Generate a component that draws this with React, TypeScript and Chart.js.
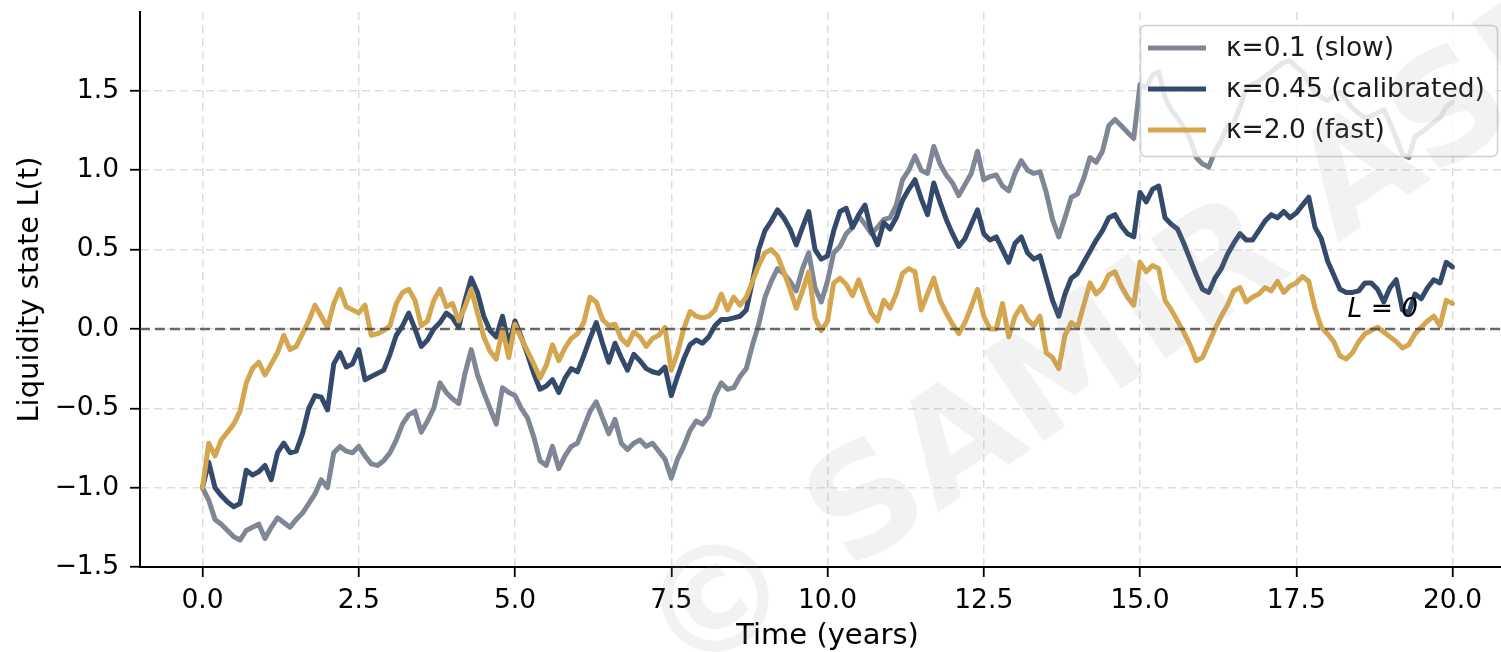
import React, { useEffect, useRef } from "react";
import { Chart, registerables } from "chart.js";

Chart.register(...registerables);

// ---- data ----
const TIME = [
  0, 0.1, 0.2, 0.3, 0.4, 0.5, 0.6, 0.7, 0.8, 0.9,
  1, 1.1, 1.2, 1.3, 1.4, 1.5, 1.6, 1.7, 1.8, 1.9,
  2, 2.1, 2.2, 2.3, 2.4, 2.5, 2.6, 2.7, 2.8, 2.9,
  3, 3.1, 3.2, 3.3, 3.4, 3.5, 3.6, 3.7, 3.8, 3.9,
  4, 4.1, 4.2, 4.3, 4.4, 4.5, 4.6, 4.7, 4.8, 4.9,
  5, 5.1, 5.2, 5.3, 5.4, 5.5, 5.6, 5.7, 5.8, 5.9,
  6, 6.1, 6.2, 6.3, 6.4, 6.5, 6.6, 6.7, 6.8, 6.9,
  7, 7.1, 7.2, 7.3, 7.4, 7.5, 7.6, 7.7, 7.8, 7.9,
  8, 8.1, 8.2, 8.3, 8.4, 8.5, 8.6, 8.7, 8.8, 8.9,
  9, 9.1, 9.2, 9.3, 9.4, 9.5, 9.6, 9.7, 9.8, 9.9,
  10, 10.1, 10.2, 10.3, 10.4, 10.5, 10.6, 10.7, 10.8, 10.9,
  11, 11.1, 11.2, 11.3, 11.4, 11.5, 11.6, 11.7, 11.8, 11.9,
  12, 12.1, 12.2, 12.3, 12.4, 12.5, 12.6, 12.7, 12.8, 12.9,
  13, 13.1, 13.2, 13.3, 13.4, 13.5, 13.6, 13.7, 13.8, 13.9,
  14, 14.1, 14.2, 14.3, 14.4, 14.5, 14.6, 14.7, 14.8, 14.9,
  15, 15.1, 15.2, 15.3, 15.4, 15.5, 15.6, 15.7, 15.8, 15.9,
  16, 16.1, 16.2, 16.3, 16.4, 16.5, 16.6, 16.7, 16.8, 16.9,
  17, 17.1, 17.2, 17.3, 17.4, 17.5, 17.6, 17.7, 17.8, 17.9,
  18, 18.1, 18.2, 18.3, 18.4, 18.5, 18.6, 18.7, 18.8, 18.9,
  19, 19.1, 19.2, 19.3, 19.4, 19.5, 19.6, 19.7, 19.8, 19.9,
  20,
];

const SLOW = [
  -1.0, -1.08, -1.2, -1.23, -1.27, -1.31, -1.33, -1.27, -1.25, -1.23,
  -1.32, -1.25, -1.19, -1.22, -1.25, -1.2, -1.16, -1.1, -1.04, -0.95,
  -1.0, -0.78, -0.74, -0.77, -0.78, -0.74, -0.8, -0.85, -0.86, -0.83,
  -0.78, -0.7, -0.6, -0.54, -0.52, -0.65, -0.58, -0.5, -0.34, -0.4,
  -0.44, -0.47, -0.28, -0.13, -0.29, -0.4, -0.5, -0.6, -0.37, -0.4,
  -0.42, -0.5, -0.56, -0.68, -0.83, -0.86, -0.74, -0.88, -0.8, -0.74,
  -0.72, -0.62, -0.52, -0.46, -0.56, -0.66, -0.57, -0.72, -0.76, -0.72,
  -0.7, -0.74, -0.72, -0.77, -0.82, -0.94, -0.82, -0.74, -0.64, -0.58,
  -0.6, -0.55, -0.42, -0.34, -0.38, -0.37, -0.3, -0.25, -0.1, 0.03,
  0.2, 0.3, 0.38, 0.35, 0.3, 0.24, 0.38, 0.48, 0.26, 0.17,
  0.3, 0.48, 0.52, 0.6, 0.64, 0.71, 0.66, 0.6, 0.64, 0.69,
  0.7, 0.78, 0.94, 1.0, 1.09, 1.0, 0.98, 1.15, 1.04, 0.97,
  0.92, 0.84, 0.91, 0.98, 1.12, 0.94, 0.96, 0.97, 0.9, 0.87,
  0.98, 1.06, 1.0, 0.98, 0.99, 0.86, 0.69, 0.58, 0.7, 0.83,
  0.85, 0.95, 1.08, 1.05, 1.12, 1.28, 1.32, 1.28, 1.24, 1.2,
  1.54, 1.52, 1.6, 1.62, 1.46, 1.38, 1.33, 1.27, 1.2, 1.08,
  1.04, 1.02, 1.12, 1.19, 1.28, 1.3, 1.4, 1.52, 1.54, 1.56,
  1.59, 1.62, 1.65, 1.68, 1.69, 1.65, 1.62, 1.55, 1.49, 1.46,
  1.44, 1.47, 1.49, 1.44, 1.39, 1.36, 1.33, 1.34, 1.36, 1.38,
  1.3, 1.2, 1.1, 1.08, 1.21, 1.24, 1.27, 1.3, 1.33, 1.4,
  1.43,
];

const CALIBRATED = [
  -1.0, -0.84, -1.0, -1.05, -1.09, -1.12, -1.1, -0.89, -0.92, -0.9,
  -0.86, -0.95, -0.78, -0.72, -0.78, -0.77, -0.66, -0.5, -0.42, -0.43,
  -0.51, -0.22, -0.15, -0.24, -0.22, -0.13, -0.32, -0.3, -0.28, -0.26,
  -0.16, -0.04, 0.02, 0.1, 0.0, -0.11, -0.07, 0.0, 0.04, 0.1,
  0.07, 0.01, 0.18, 0.32, 0.23, 0.08, -0.01, -0.05, 0.08, -0.1,
  0.05, -0.05, -0.16, -0.28, -0.38, -0.36, -0.32, -0.4, -0.31, -0.25,
  -0.27, -0.17, -0.06, 0.04, -0.09, -0.21, -0.09, -0.18, -0.26, -0.16,
  -0.2, -0.25, -0.27, -0.28, -0.24, -0.42, -0.3, -0.19, -0.1, -0.07,
  -0.09, -0.05, 0.02, 0.06, 0.06, 0.07, 0.08, 0.12, 0.3, 0.5,
  0.62, 0.68, 0.75, 0.7, 0.63, 0.53, 0.64, 0.74, 0.5, 0.44,
  0.46, 0.62, 0.74, 0.76, 0.64, 0.72, 0.78, 0.62, 0.53, 0.67,
  0.63, 0.7, 0.81, 0.88, 0.94, 0.82, 0.72, 0.92, 0.8, 0.69,
  0.6, 0.52, 0.57, 0.66, 0.75, 0.6, 0.56, 0.58, 0.5, 0.42,
  0.54, 0.58, 0.48, 0.44, 0.46, 0.32, 0.18, 0.08, 0.22, 0.32,
  0.35, 0.42, 0.49, 0.56, 0.62, 0.7, 0.72, 0.65, 0.6, 0.58,
  0.86, 0.8, 0.88, 0.9, 0.7, 0.66, 0.63, 0.54, 0.44, 0.34,
  0.25, 0.23, 0.32, 0.38, 0.47, 0.54, 0.6, 0.56, 0.56, 0.62,
  0.68, 0.72, 0.7, 0.74, 0.7, 0.73, 0.78, 0.83, 0.64, 0.57,
  0.43, 0.34, 0.25, 0.23, 0.23, 0.24, 0.29, 0.29, 0.25, 0.17,
  0.26, 0.31, 0.12, 0.1, 0.22, 0.19, 0.26, 0.31, 0.29, 0.42,
  0.39,
];

const FAST = [
  -1.0, -0.72, -0.8, -0.7, -0.65, -0.6, -0.52, -0.34, -0.25, -0.21,
  -0.29, -0.22, -0.15, -0.04, -0.13, -0.11, -0.03, 0.05, 0.15, 0.08,
  0.01, 0.16, 0.25, 0.14, 0.12, 0.1, 0.15, -0.04, -0.03, -0.01,
  0.02, 0.16, 0.23, 0.25, 0.18, 0.02, 0.05, 0.18, 0.25, 0.14,
  0.16, 0.05, 0.14, 0.25, 0.1, -0.05, -0.14, -0.19, 0.0, -0.18,
  0.03, -0.06, -0.14, -0.22, -0.31, -0.23, -0.1, -0.2, -0.12, -0.06,
  -0.03, 0.04, 0.2, 0.17, 0.06, 0.02, 0.03, -0.06, -0.1, -0.02,
  -0.05, -0.11, -0.06, -0.04, 0.01, -0.26, -0.15, 0.0, 0.11, 0.08,
  0.07, 0.08, 0.12, 0.22, 0.12, 0.2, 0.15, 0.2, 0.3, 0.4,
  0.48, 0.5, 0.46, 0.36, 0.25, 0.13, 0.24, 0.36, 0.07, -0.01,
  0.05, 0.29, 0.32, 0.28, 0.21, 0.31, 0.2, 0.1, 0.05, 0.18,
  0.13, 0.22, 0.35, 0.38, 0.36, 0.12, 0.22, 0.32, 0.18, 0.1,
  0.03, -0.03, 0.04, 0.14, 0.25, 0.08, 0.0, 0.0, 0.16, -0.05,
  0.08, 0.14, 0.06, 0.02, 0.08, -0.15, -0.18, -0.25, -0.04, 0.04,
  0.01, 0.15, 0.29, 0.22, 0.26, 0.34, 0.36, 0.27, 0.2, 0.15,
  0.42, 0.36, 0.4, 0.38, 0.18, 0.12, 0.05, -0.02, -0.1, -0.2,
  -0.18, -0.09, 0.0, 0.08, 0.15, 0.24, 0.26, 0.17, 0.2, 0.22,
  0.26, 0.24, 0.3, 0.23, 0.27, 0.29, 0.33, 0.3, 0.13, 0.01,
  -0.03, -0.08, -0.17, -0.19, -0.15, -0.08, -0.03, -0.01, 0.01, -0.02,
  -0.05, -0.08, -0.12, -0.1, -0.03, 0.01, 0.05, 0.08, 0.02, 0.18,
  0.16,
];

const SERIES_LABELS = ["κ=0.1 (slow)", "κ=0.45 (calibrated)", "κ=2.0 (fast)"];
const SERIES_COLORS = ["#7f8695", "#344a6c", "#d4a650"];
const X_TICKS = [0, 2.5, 5, 7.5, 10, 12.5, 15, 17.5, 20];
const Y_TICKS = [-1.5, -1, -0.5, 0, 0.5, 1, 1.5];
const X_MIN = -1;
const X_MAX = 21;
const Y_MIN = -1.5;
const Y_MAX = 1.997;
const REF_LEVEL = 0;
const REF_LABEL = "L = 0";
const REF_LABEL_AT = [18.32, 0.075];
const X_TITLE = "Time (years)";
const Y_TITLE = "Liquidity state L(t)";
const WATERMARK = "© SAMIR ASMAR";

const FONT = "'DejaVu Sans', sans-serif";
const fmt = (v: number) => (v < 0 ? "\u2212" : "") + Math.abs(v).toFixed(1);

const decorPlugin = {
  id: "decor",
  afterDraw(chart: any) {
    const ctx = chart.ctx as CanvasRenderingContext2D;
    const xs = chart.scales.x;
    const ys = chart.scales.y;
    ctx.save();

    // reference label
    ctx.font = `italic 26.5px ${FONT}`;
    ctx.fillStyle = "#000";
    ctx.textBaseline = "alphabetic";
    ctx.textAlign = "left";
    ctx.fillText(REF_LABEL, xs.getPixelForValue(REF_LABEL_AT[0]), ys.getPixelForValue(REF_LABEL_AT[1]));

    // legend box
    const bx = 1140.5, by = 25.5, bw = 357, bh = 131, r = 6;
    ctx.beginPath();
    ctx.moveTo(bx + r, by);
    ctx.lineTo(bx + bw - r, by);
    ctx.quadraticCurveTo(bx + bw, by, bx + bw, by + r);
    ctx.lineTo(bx + bw, by + bh - r);
    ctx.quadraticCurveTo(bx + bw, by + bh, bx + bw - r, by + bh);
    ctx.lineTo(bx + r, by + bh);
    ctx.quadraticCurveTo(bx, by + bh, bx, by + bh - r);
    ctx.lineTo(bx, by + r);
    ctx.quadraticCurveTo(bx, by, bx + r, by);
    ctx.closePath();
    ctx.fillStyle = "rgba(255,255,255,0.8)";
    ctx.fill();
    ctx.strokeStyle = "#d0d0d0";
    ctx.lineWidth = 1.5;
    ctx.stroke();

    ctx.font = `26.5px ${FONT}`;
    ctx.textBaseline = "middle";
    SERIES_LABELS.forEach((lab, i) => {
      const y = 48 + i * 41;
      ctx.beginPath();
      ctx.moveTo(1148, y);
      ctx.lineTo(1206, y);
      ctx.strokeStyle = SERIES_COLORS[i];
      ctx.lineWidth = 5;
      ctx.stroke();
      ctx.fillStyle = "#1a1a1a";
      ctx.fillText(lab, 1226, y + 1);
    });

    // watermark
    ctx.translate(662, 652);
    ctx.rotate((-34 * Math.PI) / 180);
    ctx.font = `bold 148px ${FONT}`;
    ctx.fillStyle = "rgba(150,150,150,0.12)";
    ctx.textBaseline = "middle";
    ctx.textAlign = "left";
    ctx.fillText(WATERMARK, 0, 0);

    ctx.restore();
  },
};

export default function App() {
  const ref = useRef<HTMLCanvasElement | null>(null);

  useEffect(() => {
    if (!ref.current) return;
    const series = [SLOW, CALIBRATED, FAST];
    const datasets: any[] = series.map((vals, i) => ({
      label: SERIES_LABELS[i],
      data: TIME.map((t, k) => ({ x: t, y: vals[k] })),
      borderColor: SERIES_COLORS[i],
      borderWidth: 5,
      pointRadius: 0,
      tension: 0,
      borderJoinStyle: "round",
      borderCapStyle: "round",
      fill: false,
      order: 3 - i,
    }));
    datasets.push({
      label: "ref",
      data: [
        { x: X_MIN, y: REF_LEVEL },
        { x: X_MAX, y: REF_LEVEL },
      ],
      borderColor: "rgba(70,70,70,0.8)",
      borderWidth: 2.5,
      borderDash: [10, 5],
      pointRadius: 0,
      fill: false,
      order: 0,
    });

    const gridOpts = {
      color: "rgba(170,170,170,0.4)",
      lineWidth: 1.5,
      tickColor: "#000",
      tickLength: 10,
      tickWidth: 1.8,
      tickBorderDash: [],
    };
    const borderOpts = { display: true, color: "#000", width: 2, dash: [8, 5] };

    const chart = new Chart(ref.current, {
      type: "line",
      data: { datasets },
      options: {
        animation: false,
        responsive: false,
        devicePixelRatio: 1,
        layout: { padding: { top: 12, left: 0, right: 0, bottom: 0 } },
        plugins: { legend: { display: false }, tooltip: { enabled: false } },
        scales: {
          x: {
            type: "linear",
            min: X_MIN,
            max: X_MAX,
            afterBuildTicks: (s: any) => {
              s.ticks = X_TICKS.map((v) => ({ value: v }));
            },
            afterFit: (s: any) => {
              s.height = 85;
              s.paddingLeft = 0;
              s.paddingRight = 0;
            },
            ticks: {
              callback: (v: any) => Number(v).toFixed(1),
              font: { family: FONT, size: 26.5 },
              color: "#000",
              padding: 8,
              maxRotation: 0,
              autoSkip: false,
            },
            grid: gridOpts,
            border: borderOpts,
            title: {
              display: true,
              text: X_TITLE,
              font: { family: FONT, size: 29 },
              color: "#000",
              padding: { top: 0, bottom: -2 },
            },
          },
          y: {
            type: "linear",
            min: Y_MIN,
            max: Y_MAX,
            afterBuildTicks: (s: any) => {
              s.ticks = Y_TICKS.map((v) => ({ value: v }));
            },
            afterFit: (s: any) => {
              s.width = 140;
              s.paddingTop = 0;
              s.paddingBottom = 0;
            },
            ticks: {
              callback: (v: any) => fmt(Number(v)),
              font: { family: FONT, size: 26.5 },
              color: "#000",
              padding: 11,
              autoSkip: false,
            },
            grid: gridOpts,
            border: borderOpts,
            title: {
              display: true,
              text: Y_TITLE,
              font: { family: FONT, size: 29 },
              color: "#000",
              padding: { top: 12.6, bottom: 0 },
            },
          },
        },
      } as any,
      plugins: [decorPlugin],
    });
    return () => chart.destroy();
  }, []);

  return (
    <div
      style={{
        position: "fixed",
        left: 0,
        top: 0,
        width: 1501,
        height: 652,
        overflow: "hidden",
        background: "#fff",
      }}
    >
      <canvas ref={ref} width={1515} height={652} style={{ width: 1515, height: 652, display: "block" }} />
    </div>
  );
}
